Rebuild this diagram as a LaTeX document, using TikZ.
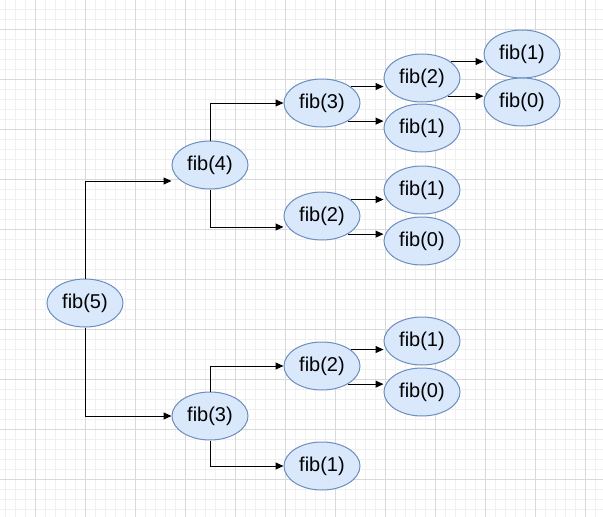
\documentclass[tikz,border=0pt]{standalone}
\usepackage{fontspec}
\setmainfont{Liberation Sans}
\usetikzlibrary{arrows.meta,shapes.geometric}
\definecolor{fillblue}{HTML}{DAE8FC}
\definecolor{drawblue}{HTML}{6C8EBF}
\tikzset{
  call/.style={ellipse, draw=drawblue, fill=fillblue, line width=1pt,
    minimum width=76pt, minimum height=48pt, inner sep=0pt,
    font=\fontsize{20}{24}\selectfont},
  link/.style={-{Triangle[length=8pt,width=7pt]}, line width=1pt}
}
\begin{document}
\begin{tikzpicture}[x=1pt, y=-1pt]
  \useasboundingbox (0,0) rectangle (603,517);
  % background grid
  \foreach \x in {5,15,...,603} \draw[black!6] (\x,0) -- (\x,517);
  \foreach \y in {9,19,...,517} \draw[black!6] (0,\y) -- (603,\y);
  \foreach \x in {35,85,...,603} \draw[black!15] (\x,0) -- (\x,517);
  \foreach \y in {29,79,...,517} \draw[black!15] (0,\y) -- (603,\y);

  \node[call] (f5) at (85,303) {fib(5)};
  \node[call] (f4) at (210,165) {fib(4)};
  \node[call] (f3b) at (210,416) {fib(3)};
  \node[call] (f3a) at (322,103) {fib(3)};
  \node[call] (f2a) at (322,216) {fib(2)};
  \node[call] (f2b) at (322,366) {fib(2)};
  \node[call] (f1d) at (322,466) {fib(1)};
  \node[call] (f2c) at (422,78) {fib(2)};
  \node[call] (f1a) at (422,128) {fib(1)};
  \node[call] (f1b) at (422,190) {fib(1)};
  \node[call] (f0b) at (422,241) {fib(0)};
  \node[call] (f1c) at (422,341) {fib(1)};
  \node[call] (f0c) at (422,392) {fib(0)};
  \node[call] (f1e) at (522,54) {fib(1)};
  \node[call] (f0e) at (522,102) {fib(0)};

  \draw[link] (f5.north) |- ([yshift=-16pt]f4.west);
  \draw[link] (f5.south) |- (f3b.west);
  \draw[link] (f4.north) |- (f3a.west);
  \draw[link] (f4.south) |- ([yshift=-11pt]f2a.west);
  \draw[link] (f3b.north) |- (f2b.west);
  \draw[link] (f3b.south) |- (f1d.west);
  \foreach \src/\up/\down in {f3a/f2c/f1a, f2a/f1b/f0b, f2b/f1c/f0c, f2c/f1e/f0e} {
    \draw[link] (\src.30) -- (\src.30 -| \up.west);
    \draw[link] (\src.-35) -- (\src.-35 -| \down.west);
  }
\end{tikzpicture}
\end{document}
